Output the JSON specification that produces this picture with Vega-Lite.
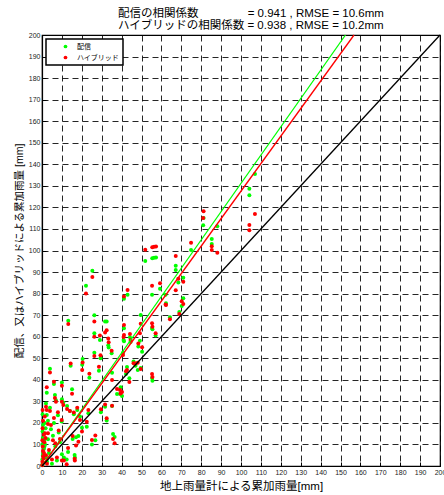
{
"$schema":"https://vega.github.io/schema/vega-lite/v6.json",
"width":398,"height":431,
"autosize":{"type":"none"},
"padding":{"left":42,"top":35,"right":4,"bottom":29},
"background":"white",
"config":{
 "font":"Liberation Sans, Noto Sans CJK JP",
 "view":{"stroke":"black","strokeWidth":1.2},
 "axis":{"grid":true,"gridDash":[6,4],"gridColor":"#000","gridOpacity":0.85,"gridWidth":1,
  "domainColor":"#000","domainWidth":1.2,"tickColor":"#000","tickSize":-4,"labelPadding":6,
  "labelFontSize":7,"labelColor":"#222","labelFlush":false,"labelOverlap":false,
  "titleFontSize":11.5,"titleFontWeight":"normal","titleColor":"#000",
  "titleFont":"Liberation Sans, Noto Sans CJK JP"},
 "legend":{"orient":"top-left","offset":4,"strokeColor":"#000","strokeWidth":1.5,"fillColor":"white",
  "padding":4,"labelFontSize":7,"labelColor":"#000","symbolSize":14,"symbolType":"circle","symbolStrokeWidth":0,
  "symbolOffset":12,"labelOffset":8,"rowPadding":3,"cornerRadius":0}
},
"title":{"text":["配信の相関係数　　　　 = 0.941 , RMSE = 10.6mm","ハイブリッドの相関係数 = 0.938 , RMSE = 10.2mm"],
 "fontSize":11.5,"fontWeight":"normal","color":"#000","anchor":"start","frame":"group","dx":76,"offset":0,"lineHeight":12,
 "font":"Liberation Sans, Noto Sans CJK JP"},
"datasets":{
"g":[{"x":107,"y":135.5},{"x":104.2,"y":128.7},{"x":104.2,"y":125.6},{"x":81.2,"y":115.1},{"x":81,"y":111.7},{"x":88.1,"y":111.2},{"x":85.3,"y":105.3},{"x":85.3,"y":103},{"x":74.9,"y":100.2},{"x":51.9,"y":95.1},{"x":55.4,"y":96.4},{"x":56.3,"y":96.6},{"x":57.3,"y":96.8},{"x":67.2,"y":92.9},{"x":67.2,"y":90.9},{"x":43,"y":79.5},{"x":41.2,"y":77.6},{"x":59.3,"y":82.3},{"x":55.3,"y":79.5},{"x":62.1,"y":79.5},{"x":68.5,"y":85.2},{"x":71,"y":87.4},{"x":71,"y":77.8},{"x":62.3,"y":75.5},{"x":70.2,"y":74.2},{"x":69,"y":71.5},{"x":64.3,"y":69},{"x":55.3,"y":64},{"x":55.5,"y":63.5},{"x":57.1,"y":60.5},{"x":41.2,"y":63.9},{"x":41.2,"y":57.9},{"x":41,"y":58.5},{"x":44.2,"y":59.7},{"x":44.5,"y":57.5},{"x":49.2,"y":58.1},{"x":48.4,"y":55.5},{"x":49.6,"y":70.1},{"x":50.3,"y":53},{"x":40.7,"y":52.5},{"x":46,"y":48.5},{"x":47,"y":46.5},{"x":48.1,"y":44.5},{"x":49.6,"y":45.5},{"x":42.7,"y":45.9},{"x":42.2,"y":42.7},{"x":55.3,"y":40.8},{"x":55.5,"y":39.6},{"x":39.5,"y":36.5},{"x":25.3,"y":90.6},{"x":22.1,"y":83.7},{"x":13.2,"y":67.4},{"x":26.3,"y":69.9},{"x":26.3,"y":61.6},{"x":29.1,"y":58.5},{"x":31.7,"y":67.1},{"x":32.5,"y":67.1},{"x":33.3,"y":56},{"x":33.5,"y":55},{"x":26.3,"y":52.6},{"x":29.4,"y":50},{"x":35,"y":52.3},{"x":20.4,"y":49.6},{"x":20.2,"y":47},{"x":14.4,"y":46.5},{"x":23.8,"y":41},{"x":28.6,"y":44.2},{"x":35.2,"y":43.3},{"x":4,"y":45.1},{"x":6,"y":38},{"x":10,"y":38.7},{"x":15.1,"y":35.6},{"x":39.2,"y":33.4},{"x":37.7,"y":33.4},{"x":40.2,"y":32.5},{"x":43.9,"y":40.7},{"x":6.5,"y":33},{"x":7,"y":30.5},{"x":2.4,"y":23.7},{"x":10.7,"y":29.5},{"x":10,"y":31},{"x":12.6,"y":27.8},{"x":14,"y":25.5},{"x":16,"y":24},{"x":17.7,"y":26},{"x":19.1,"y":23},{"x":9.9,"y":20.6},{"x":6,"y":20},{"x":20.1,"y":17.8},{"x":22.5,"y":18.2},{"x":23.3,"y":24.5},{"x":29.6,"y":25},{"x":31.7,"y":27.5},{"x":32.5,"y":21.1},{"x":35.2,"y":27.8},{"x":18.3,"y":13.9},{"x":15.4,"y":12.5},{"x":17.1,"y":13.3},{"x":25.1,"y":10},{"x":26.8,"y":12},{"x":35.7,"y":14.8},{"x":36.5,"y":13.5},{"x":0.3,"y":24},{"x":0.5,"y":19},{"x":0.3,"y":16},{"x":1,"y":12},{"x":1.5,"y":10},{"x":3,"y":12.4},{"x":1,"y":8},{"x":0.5,"y":5},{"x":0.2,"y":3},{"x":0.8,"y":1.5},{"x":1.2,"y":9},{"x":2,"y":4},{"x":3.5,"y":6},{"x":2.5,"y":2},{"x":0.1,"y":0.5},{"x":2.4,"y":34},{"x":4.5,"y":17},{"x":5.5,"y":14},{"x":6.7,"y":9},{"x":8.4,"y":15.5},{"x":10,"y":5.5},{"x":11,"y":4},{"x":12.4,"y":3},{"x":13.1,"y":6.5},{"x":16.4,"y":5.1},{"x":16.5,"y":4},{"x":8,"y":23.5},{"x":4,"y":27},{"x":2,"y":29},{"x":9,"y":11},{"x":7.5,"y":2.5},{"x":5,"y":1},{"x":3,"y":21},{"x":1.8,"y":17.5},{"x":0.2,"y":10},{"x":0.4,"y":13},{"x":0.6,"y":6},{"x":1.4,"y":20}],
"r":[{"x":107,"y":116.9},{"x":104.2,"y":111.8},{"x":104.2,"y":109.4},{"x":81.2,"y":118.2},{"x":81,"y":115.1},{"x":88.1,"y":99},{"x":85.3,"y":102},{"x":85.3,"y":100.2},{"x":74.9,"y":103.6},{"x":51.9,"y":100.4},{"x":55.4,"y":101.5},{"x":56.3,"y":101.7},{"x":57.3,"y":101.8},{"x":67.2,"y":97.4},{"x":67.2,"y":81.5},{"x":43,"y":81.7},{"x":41.2,"y":78.6},{"x":59.3,"y":84.8},{"x":55.3,"y":83.7},{"x":62.1,"y":74.9},{"x":68.5,"y":86.9},{"x":71,"y":85.5},{"x":71,"y":75.2},{"x":62.3,"y":74.7},{"x":70.2,"y":76.5},{"x":69,"y":70.5},{"x":64.3,"y":68.1},{"x":55.3,"y":66.2},{"x":55.5,"y":64.6},{"x":57.1,"y":61.6},{"x":41.2,"y":65.4},{"x":41.2,"y":60.8},{"x":41,"y":59.9},{"x":44.2,"y":61.3},{"x":44.5,"y":58.5},{"x":49.2,"y":61.6},{"x":48.4,"y":56.9},{"x":49.6,"y":66},{"x":50.3,"y":55.1},{"x":40.7,"y":51.5},{"x":46,"y":47.7},{"x":47,"y":47.6},{"x":48.1,"y":47.9},{"x":49.6,"y":45},{"x":42.7,"y":44.5},{"x":42.2,"y":44},{"x":55.3,"y":42.7},{"x":55.5,"y":41.3},{"x":39.5,"y":33.7},{"x":25.3,"y":87.7},{"x":22.1,"y":80},{"x":13.2,"y":65.9},{"x":26.3,"y":67},{"x":26.3,"y":60},{"x":29.1,"y":60.5},{"x":31.7,"y":62},{"x":32.5,"y":63},{"x":33.3,"y":59.2},{"x":33.5,"y":57.4},{"x":26.3,"y":51},{"x":29.4,"y":51.4},{"x":35,"y":53.5},{"x":20.4,"y":48},{"x":20.2,"y":44.5},{"x":14.4,"y":47.6},{"x":23.8,"y":42.8},{"x":28.6,"y":46},{"x":35.2,"y":39.9},{"x":4,"y":43.4},{"x":6,"y":39.1},{"x":10,"y":37.2},{"x":15.1,"y":33.5},{"x":39.2,"y":35.3},{"x":37.7,"y":35.7},{"x":40.2,"y":34.3},{"x":43.9,"y":39},{"x":6.5,"y":31.6},{"x":7,"y":29.8},{"x":2.4,"y":26},{"x":10.7,"y":28.3},{"x":10,"y":29.8},{"x":12.6,"y":26.5},{"x":14,"y":25.5},{"x":16,"y":24.8},{"x":17.7,"y":27},{"x":19.1,"y":21.3},{"x":9.9,"y":21.3},{"x":6,"y":22.3},{"x":20.1,"y":16},{"x":22.5,"y":20.5},{"x":23.3,"y":26},{"x":29.6,"y":26.3},{"x":31.7,"y":28.5},{"x":32.5,"y":22.1},{"x":35.2,"y":28},{"x":18.3,"y":11.3},{"x":15.4,"y":13.9},{"x":17.1,"y":9.5},{"x":25.1,"y":12.1},{"x":26.8,"y":14.2},{"x":35.7,"y":12.5},{"x":36.5,"y":10.5},{"x":0.3,"y":26},{"x":0.5,"y":21},{"x":0.3,"y":17.5},{"x":1,"y":14.5},{"x":1.5,"y":15.2},{"x":3,"y":15.2},{"x":1,"y":6},{"x":0.5,"y":7},{"x":0.2,"y":2},{"x":0.8,"y":3.5},{"x":1.2,"y":11},{"x":2,"y":5},{"x":3.5,"y":7.4},{"x":2.5,"y":1},{"x":0.1,"y":0.3},{"x":2.4,"y":36.5},{"x":4.5,"y":19},{"x":5.5,"y":12},{"x":6.7,"y":10.5},{"x":8.4,"y":16.5},{"x":10,"y":2.6},{"x":11,"y":2.5},{"x":12.4,"y":0.8},{"x":13.1,"y":8.4},{"x":16.4,"y":3.4},{"x":16.5,"y":2.5},{"x":8,"y":25},{"x":4,"y":25.5},{"x":2,"y":27.5},{"x":9,"y":12.5},{"x":7.5,"y":4},{"x":5,"y":3},{"x":3,"y":19.5},{"x":1.8,"y":13},{"x":0.2,"y":12},{"x":0.4,"y":9},{"x":0.6,"y":4.5},{"x":1.4,"y":23}],
"lines":[{"k":"配信","x":0,"y":0},{"k":"配信","x":152.5,"y":200},{"k":"ハイブリッド","x":0,"y":0},{"k":"ハイブリッド","x":156.8,"y":200},{"k":"1:1","x":0,"y":0},{"k":"1:1","x":200,"y":200}]
},
"encoding":{
 "x":{"field":"x","type":"quantitative","scale":{"domain":[0,200],"nice":false,"zero":false},
  "axis":{"values":[0,10,20,30,40,50,60,70,80,90,100,110,120,130,140,150,160,170,180,190,200],"title":"地上雨量計による累加雨量[mm]","titlePadding":5}},
 "y":{"field":"y","type":"quantitative","scale":{"domain":[0,200],"nice":false,"zero":false},
  "axis":{"values":[0,10,20,30,40,50,60,70,80,90,100,110,120,130,140,150,160,170,180,190,200],"title":"配信、又はハイブリッドによる累加雨量 [mm]","titleFontSize":10.5,"titlePadding":4}}
},
"layer":[
 {"data":{"name":"g"},"mark":{"type":"point","filled":true,"size":16,"opacity":1,"strokeWidth":0},
  "encoding":{"color":{"datum":"配信","type":"nominal","scale":{"domain":["配信","ハイブリッド"],"range":["#00ff00","#ff0000"]},"legend":{"title":null}}}},
 {"data":{"name":"r"},"mark":{"type":"point","filled":true,"size":16,"opacity":1,"strokeWidth":0},
  "encoding":{"color":{"datum":"ハイブリッド","type":"nominal"}}},
 {"data":{"name":"lines"},"mark":{"type":"line","strokeWidth":1.3},
  "encoding":{"stroke":{"field":"k","type":"nominal","scale":{"domain":["配信","ハイブリッド","1:1"],"range":["#00ff00","#ff0000","#000000"]},"legend":null}}}
]
}
